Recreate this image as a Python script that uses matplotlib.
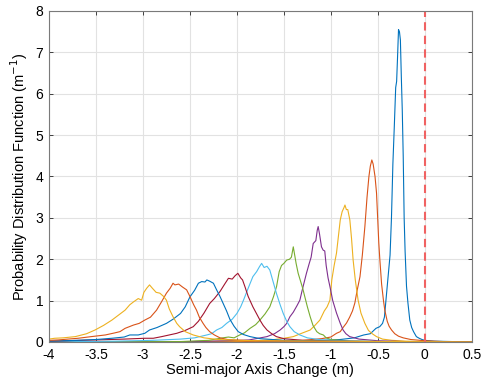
import matplotlib
matplotlib.use("Agg")
import matplotlib.pyplot as plt
import numpy as np

plt.rcParams["font.family"] = ["Liberation Sans", "DejaVu Sans"]
plt.rcParams["axes.unicode_minus"] = False

# MATLAB default colour order, one curve per run (right to left)
COLORS = ["#0072BD", "#D95319", "#EDB120", "#7E2F8E", "#77AC30",
          "#4DBEEE", "#A2142F", "#0072BD", "#D95319", "#EDB120"]

x1 = [-4, -2.0, -1.2, -0.9, -0.75, -0.65, -0.58, -0.52, -0.48, -0.45, -0.43, -0.41, -0.39, -0.37,
      -0.355, -0.34, -0.325, -0.31, -0.30, -0.29, -0.28, -0.27, -0.26, -0.25, -0.24, -0.23, -0.22,
      -0.21, -0.195, -0.18, -0.16, -0.14, -0.12, -0.09, -0.06, -0.03, 0.0, 0.1, 0.3, 0.5]
y1 = [0, 0.01, 0.03, 0.06, 0.1, 0.17, 0.2, 0.33, 0.37, 0.45, 0.6, 1.1, 1.6, 2.1,
      3.0, 4.3, 5.2, 6.15, 6.3, 6.9, 7.55, 7.5, 7.3, 6.4, 5.6, 4.5, 3.0,
      2.2, 1.35, 0.95, 0.53, 0.35, 0.25, 0.13, 0.09, 0.06, 0.04, 0.02, 0.01, 0]

x2 = [-4, -2.0, -1.3, -1.1, -1.0, -0.94, -0.9, -0.87, -0.833, -0.8, -0.77, -0.745, -0.72, -0.69,
      -0.665, -0.638, -0.615, -0.595, -0.58, -0.564, -0.55, -0.53, -0.514, -0.5, -0.49, -0.479,
      -0.46, -0.44, -0.426, -0.4, -0.38, -0.354, -0.32, -0.28, -0.23, -0.15, 0.0, 0.2, 0.5]
y2 = [0, 0.01, 0.04, 0.08, 0.12, 0.21, 0.25, 0.35, 0.46, 0.6, 0.75, 0.94, 1.25, 1.58,
      2.1, 2.79, 3.5, 4.0, 4.25, 4.4, 4.3, 4.0, 3.6, 2.9, 2.4, 2.0,
      1.4, 1.0, 0.77, 0.5, 0.38, 0.29, 0.2, 0.14, 0.1, 0.06, 0.03, 0.01, 0]

x3 = [-4, -2.5, -1.8, -1.6, -1.5, -1.4, -1.3, -1.22, -1.17, -1.117, -1.07, -1.04, -1.01, -0.99,
      -0.965, -0.94, -0.92, -0.9, -0.88, -0.86, -0.85, -0.835, -0.82, -0.798, -0.78, -0.763,
      -0.74, -0.71, -0.68, -0.638, -0.6, -0.56, -0.514, -0.45, -0.35, -0.2, 0.0, 0.5]
y3 = [0, 0.01, 0.03, 0.06, 0.09, 0.13, 0.22, 0.29, 0.4, 0.53, 0.75, 0.85, 1.01, 1.5,
      1.85, 2.15, 2.55, 2.95, 3.15, 3.25, 3.31, 3.2, 3.2, 2.95, 2.5, 1.98,
      1.5, 1.01, 0.7, 0.45, 0.28, 0.2, 0.13, 0.07, 0.04, 0.02, 0.01, 0]

x4 = [-4, -2.5, -2.1, -1.87, -1.75, -1.68, -1.6, -1.54, -1.5, -1.47, -1.436, -1.4, -1.36, -1.33,
      -1.3, -1.26, -1.23, -1.21, -1.188, -1.16, -1.145, -1.135, -1.12, -1.1, -1.082, -1.065,
      -1.05, -1.03, -1.01, -0.98, -0.94, -0.9, -0.87, -0.84, -0.8, -0.7, -0.5, -0.2, 0.5]
y4 = [0, 0.01, 0.03, 0.05, 0.1, 0.13, 0.2, 0.29, 0.37, 0.45, 0.61, 0.72, 0.88, 1.01,
      1.3, 1.66, 1.9, 2.05, 2.38, 2.45, 2.7, 2.79, 2.6, 2.3, 2.22, 2.2,
      1.85, 1.55, 1.34, 1.0, 0.7, 0.45, 0.29, 0.2, 0.13, 0.07, 0.03, 0.01, 0]

x5 = [-4, -2.6, -2.3, -2.15, -2.09, -2.03, -1.97, -1.92, -1.86, -1.8, -1.755, -1.7, -1.65, -1.61,
      -1.578, -1.55, -1.525, -1.5, -1.47, -1.44, -1.42, -1.40, -1.385, -1.37, -1.348, -1.32,
      -1.3, -1.277, -1.25, -1.22, -1.19, -1.15, -1.12, -1.08, -1.05, -1.0, -0.8, -0.5, 0.5]
y5 = [0, 0.01, 0.04, 0.1, 0.12, 0.1, 0.17, 0.22, 0.33, 0.42, 0.53, 0.68, 0.85, 1.1,
      1.34, 1.7, 1.85, 1.9, 1.98, 2.0, 2.05, 2.3, 2.1, 1.9, 1.66, 1.45,
      1.3, 1.09, 0.85, 0.61, 0.4, 0.25, 0.2, 0.17, 0.1, 0.06, 0.02, 0.01, 0]

x6 = [-4, -3.3, -2.9, -2.6, -2.45, -2.32, -2.27, -2.216, -2.16, -2.11, -2.05, -2.0, -1.96, -1.93,
      -1.88, -1.83, -1.79, -1.76, -1.737, -1.71, -1.68, -1.65, -1.62, -1.58, -1.54, -1.507,
      -1.47, -1.436, -1.39, -1.33, -1.25, -1.1, -0.8, -0.4, 0.5]
y6 = [0, 0.02, 0.04, 0.07, 0.1, 0.17, 0.2, 0.29, 0.35, 0.45, 0.55, 0.69, 0.85, 1.01,
      1.3, 1.58, 1.7, 1.82, 1.9, 1.8, 1.83, 1.74, 1.5, 1.18, 0.9, 0.69,
      0.5, 0.37, 0.25, 0.17, 0.1, 0.05, 0.02, 0.01, 0]

x7 = [-4, -3.5, -3.2, -2.98, -2.89, -2.8, -2.72, -2.64, -2.55, -2.465, -2.41, -2.35, -2.29, -2.24,
      -2.18, -2.13, -2.09, -2.05, -2.02, -1.99, -1.96, -1.94, -1.915, -1.88, -1.83, -1.79,
      -1.755, -1.72, -1.68, -1.63, -1.58, -1.5, -1.3, -1.0, -0.5, 0.5]
y7 = [0.02, 0.05, 0.07, 0.09, 0.09, 0.13, 0.17, 0.21, 0.28, 0.37, 0.5, 0.7, 0.93, 1.05,
      1.22, 1.4, 1.54, 1.52, 1.6, 1.66, 1.55, 1.5, 1.34, 1.1, 0.85, 0.68,
      0.53, 0.4, 0.29, 0.2, 0.13, 0.08, 0.04, 0.02, 0.01, 0]

x8 = [-4, -3.7, -3.5, -3.33, -3.2, -3.14, -3.05, -2.98, -2.93, -2.85, -2.75, -2.68, -2.6, -2.55,
      -2.5, -2.45, -2.41, -2.375, -2.34, -2.32, -2.29, -2.25, -2.216, -2.18, -2.146, -2.11,
      -2.075, -2.03, -1.986, -1.93, -1.86, -1.75, -1.5, -1.0, -0.5, 0.5]
y8 = [0.02, 0.04, 0.06, 0.09, 0.12, 0.17, 0.17, 0.21, 0.29, 0.35, 0.45, 0.55, 0.69, 0.85,
      1.09, 1.25, 1.42, 1.46, 1.45, 1.5, 1.47, 1.42, 1.26, 1.1, 0.93, 0.75,
      0.55, 0.38, 0.25, 0.18, 0.13, 0.08, 0.04, 0.02, 0.01, 0]

x9 = [-4, -3.9, -3.8, -3.69, -3.55, -3.4, -3.3, -3.245, -3.19, -3.1, -3.04, -2.98, -2.92, -2.855,
      -2.8, -2.75, -2.71, -2.68, -2.66, -2.62, -2.58, -2.535, -2.5, -2.46, -2.43, -2.4,
      -2.36, -2.33, -2.29, -2.24, -2.18, -2.1, -1.9, -1.5, -1.0, 0.5]
y9 = [0.04, 0.05, 0.07, 0.09, 0.13, 0.17, 0.22, 0.25, 0.33, 0.41, 0.45, 0.53, 0.6, 0.77,
      0.98, 1.18, 1.3, 1.42, 1.38, 1.4, 1.33, 1.26, 1.1, 0.9, 0.77, 0.6,
      0.45, 0.35, 0.25, 0.17, 0.1, 0.06, 0.03, 0.02, 0.01, 0]

x10 = [-4, -3.94, -3.85, -3.72, -3.6, -3.51, -3.42, -3.33, -3.26, -3.19, -3.14, -3.1, -3.05,
       -3.014, -2.99, -2.96, -2.93, -2.9, -2.86, -2.82, -2.78, -2.75, -2.72, -2.68, -2.64,
       -2.61, -2.55, -2.465, -2.35, -2.2, -1.8, -1.0, 0.5]
y10 = [0.07, 0.09, 0.1, 0.13, 0.2, 0.29, 0.4, 0.53, 0.65, 0.77, 0.9, 0.97, 1.05,
       1.01, 1.2, 1.3, 1.38, 1.3, 1.2, 1.18, 1.1, 1.01, 0.8, 0.61, 0.45,
       0.37, 0.25, 0.17, 0.1, 0.06, 0.03, 0.02, 0]

CURVES = [(x1, y1), (x2, y2), (x3, y3), (x4, y4), (x5, y5),
          (x6, y6), (x7, y7), (x8, y8), (x9, y9), (x10, y10)]

XTICKS = np.arange(-4, 0.51, 0.5)
XTICK_LABELS = ["-4", "-3.5", "-3", "-2.5", "-2", "-1.5", "-1", "-0.5", "0", "0.5"]
YTICKS = list(range(0, 9))

fig = plt.figure(figsize=(4.88, 3.87), dpi=100)
ax = fig.add_axes([0.1004, 0.1163, 0.8664, 0.8553])

for (xs, ys), c in zip(CURVES, COLORS):
    ax.plot(xs, ys, color=c, linewidth=0.8)

ax.axvline(0, color="#f06262", linestyle=(0, (4, 2.5)), linewidth=1.5)

ax.set_xlim(-4, 0.5)
ax.set_ylim(0, 8)
ax.set_xticks(XTICKS)
ax.set_xticklabels(XTICK_LABELS)
ax.set_yticks(YTICKS)
ax.grid(True, color="#e2e2e2", linewidth=0.8)
ax.set_axisbelow(True)
ax.tick_params(direction="in", top=True, right=True, labelsize=10,
               color="#262626", length=3, width=0.6, pad=4)
for s in ax.spines.values():
    s.set_color("#7a7a7a")
    s.set_linewidth(0.8)

ax.set_xlabel("Semi-major Axis Change (m)", fontsize=10.5, labelpad=1)
ax.set_ylabel("Probability Distribution Function (m$^{-1}$)", fontsize=10.5, labelpad=4)

fig.savefig("out.png", dpi=100)
